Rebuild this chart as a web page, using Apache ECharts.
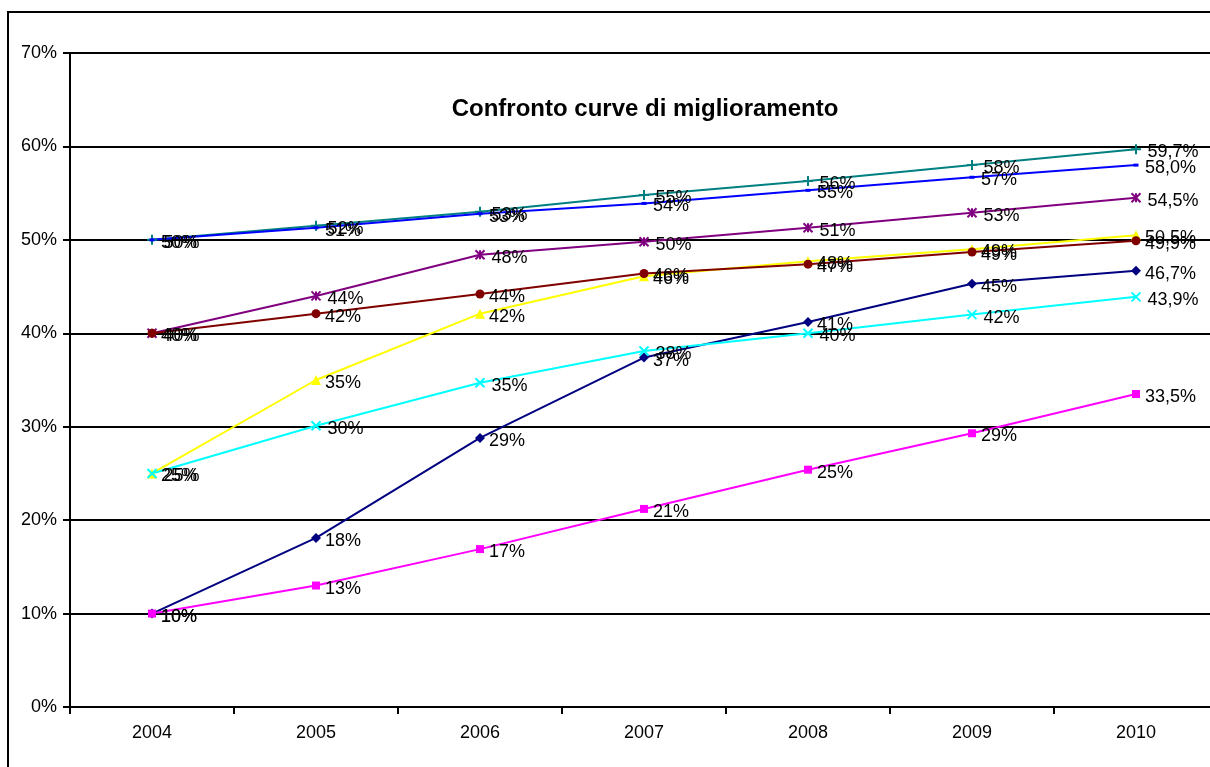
<!DOCTYPE html>
<html>
<head>
<meta charset="utf-8">
<title>Confronto curve di miglioramento</title>
<script src="https://cdn.jsdelivr.net/npm/echarts@6/dist/echarts.min.js"></script>
<style>
  html, body { margin: 0; padding: 0; background: #fff; }
  #chart { width: 1210px; height: 767px; }
</style>
</head>
<body>
<div id="chart"></div>
<script>
// Anni sull'asse orizzontale
const years = ['2004', '2005', '2006', '2007', '2008', '2009', '2010'];

// Curve di miglioramento (valori in %)
const curvaBlu = [10, 18.1, 28.8, 37.4, 41.2, 45.3, 46.7];
const curvaMagenta = [10, 13.0, 16.9, 21.2, 25.4, 29.3, 33.5];
const curvaGialla = [25, 35.0, 42.1, 46.1, 47.7, 49.0, 50.5];
const curvaAzzurra = [25, 30.1, 34.7, 38.1, 40.0, 42.0, 43.9];
const curvaViola = [40, 44.0, 48.4, 49.8, 51.3, 52.9, 54.5];
const curvaBordeaux = [40, 42.1, 44.2, 46.4, 47.4, 48.7, 49.9];
const curvaVerde = [50, 51.5, 53.0, 54.8, 56.3, 58.0, 59.7];
const curvaBlu2 = [50, 51.3, 52.8, 53.9, 55.3, 56.7, 58.0];

// Etichette asse verticale
const yTicks = [0, 10, 20, 30, 40, 50, 60, 70];

const FONT = "'Liberation Sans', Arial, sans-serif";
const lastIdx = years.length - 1;

function fmtLabel(p) {
  if (p.dataIndex === lastIdx) {
    return p.value.toFixed(1).replace('.', ',') + '%';
  }
  return Math.round(p.value) + '%';
}

// Simboli disegnati a tratti
const SYM_X = 'path://M0,0L10,10M10,0L0,10';
const SYM_STAR = 'path://M0,0L10,10M10,0L0,10M5,0L5,10';
const SYM_PLUS = 'path://M5,0L5,10M0,5L10,5';

function makeSeries(data, color, symbol, size, stroked) {
  const half = (Array.isArray(size) ? size[0] : size) / 2;
  return {
    type: 'line',
    data: data,
    symbol: symbol,
    symbolSize: size,
    showAllSymbol: true,
    lineStyle: { color: color, width: 2 },
    itemStyle: stroked
      ? { color: 'none', borderColor: color, borderWidth: 2 }
      : { color: color, borderColor: color, borderWidth: 0 },
    label: {
      show: true,
      position: 'right',
      distance: 9 - half,
      offset: [0, 3],
      color: '#000',
      fontFamily: FONT,
      fontSize: 18,
      formatter: fmtLabel
    },
    emphasis: { disabled: true },
    z: 3
  };
}

const chart = echarts.init(document.getElementById('chart'), null, { renderer: 'canvas' });

chart.setOption({
  animation: false,
  backgroundColor: '#fff',
  textStyle: { fontFamily: FONT },
  title: {
    text: 'Confronto curve di miglioramento',
    left: 640,
    top: 92,
    textAlign: 'center',
    textStyle: { fontFamily: FONT, fontSize: 24, fontWeight: 'bold', color: '#000' }
  },
  graphic: [{
    type: 'rect',
    shape: { x: 8, y: 12, width: 1400, height: 1000 },
    style: { fill: 'none', stroke: '#000', lineWidth: 2 },
    silent: true,
    z: -10
  }],
  grid: {
    left: 70, top: 53, width: 1148, height: 654,
    containLabel: false,
    outerBoundsMode: 'none'
  },
  xAxis: {
    type: 'category',
    data: years,
    boundaryGap: true,
    axisLine: { show: true, lineStyle: { color: '#000', width: 2 } },
    axisTick: { show: true, interval: 0, length: 7, lineStyle: { color: '#000', width: 2 } },
    axisLabel: { color: '#000', fontSize: 18, fontFamily: FONT, margin: 17 },
    splitLine: { show: false }
  },
  yAxis: {
    type: 'value',
    min: yTicks[0],
    max: yTicks[yTicks.length - 1],
    interval: 10,
    axisLine: { show: true, lineStyle: { color: '#000', width: 2 } },
    axisTick: { show: true, length: 7, lineStyle: { color: '#000', width: 2 } },
    axisLabel: { color: '#000', fontSize: 18, fontFamily: FONT, margin: 13, formatter: '{value}%' },
    splitLine: { show: true, lineStyle: { color: '#000', width: 2 } }
  },
  series: [
    makeSeries(curvaBlu, '#000080', 'diamond', 10, false),
    makeSeries(curvaMagenta, '#FF00FF', 'rect', 8, false),
    makeSeries(curvaGialla, '#FFFF00', 'triangle', 10, false),
    makeSeries(curvaAzzurra, '#00FFFF', SYM_X, 9, true),
    makeSeries(curvaViola, '#800080', SYM_STAR, 9, true),
    makeSeries(curvaBordeaux, '#800000', 'circle', 9, false),
    makeSeries(curvaVerde, '#008080', SYM_PLUS, 10, true),
    makeSeries(curvaBlu2, '#0000FF', 'rect', [5, 3], false)
  ]
});
</script>
</body>
</html>
